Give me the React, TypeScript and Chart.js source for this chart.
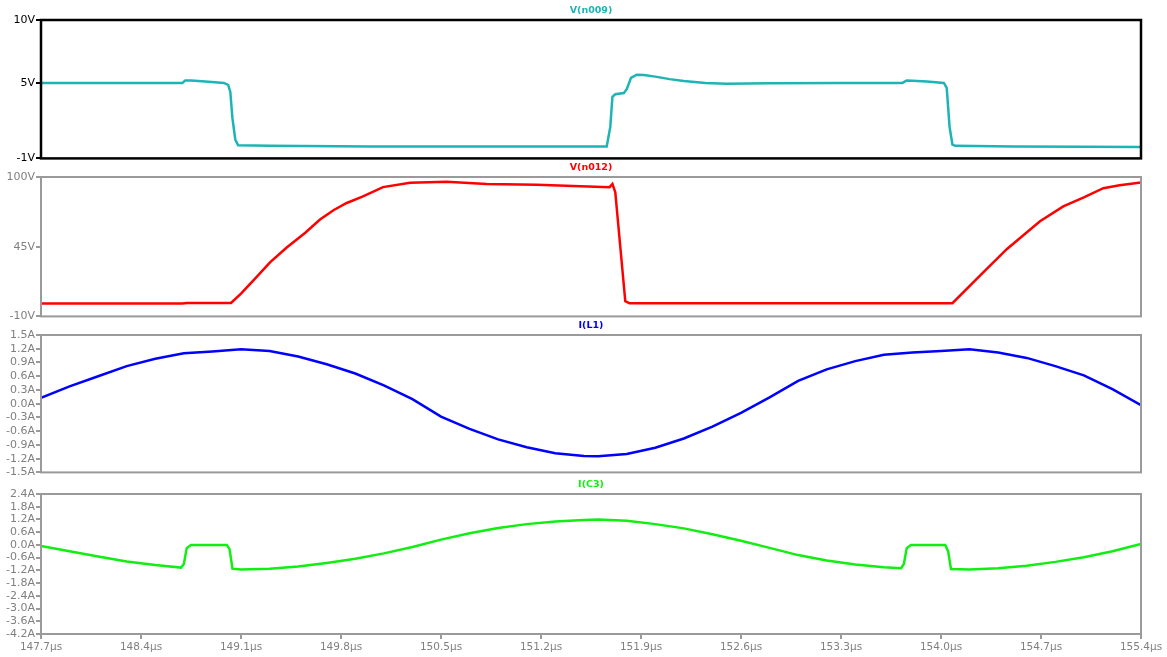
import { useEffect, useRef } from "react";
import { Chart, registerables } from "chart.js";

Chart.register(...registerables);

// ---------- tick labels ----------
const xTicks = [147.7, 148.4, 149.1, 149.8, 150.5, 151.2, 151.9, 152.6, 153.3, 154.0, 154.7, 155.4];
const yTicksN009 = [-1, 5, 10];
const yTicksN012 = [-10, 45, 100];
const yTicksL1 = [-1.5, -1.2, -0.9, -0.6, -0.3, 0.0, 0.3, 0.6, 0.9, 1.2, 1.5];
const yTicksC3 = [-4.2, -3.6, -3.0, -2.4, -1.8, -1.2, -0.6, 0.0, 0.6, 1.2, 1.8, 2.4];

// ---------- V(n009) ----------
const tN009 = [147.7, 148.2, 148.69, 148.71, 148.75, 148.85, 148.98, 149.01, 149.025, 149.04, 149.06, 149.08, 149.3, 150.0, 150.8, 151.66, 151.685, 151.7, 151.72, 151.78, 151.8, 151.83, 151.87, 151.92, 152.0, 152.1, 152.2, 152.35, 152.5, 152.8, 153.3, 153.73, 153.76, 153.8, 153.9, 154.02, 154.04, 154.06, 154.08, 154.1, 154.5, 155.0, 155.4];
const vN009 = [5.0, 5.0, 5.0, 5.2, 5.2, 5.12, 5.0, 4.85, 4.3, 2.2, 0.5, 0.05, 0.0, -0.05, -0.05, -0.05, 1.5, 3.9, 4.1, 4.2, 4.5, 5.4, 5.65, 5.62, 5.5, 5.3, 5.15, 5.0, 4.93, 4.97, 5.0, 5.0, 5.2, 5.18, 5.12, 5.0, 4.6, 1.5, 0.1, 0.0, -0.05, -0.08, -0.1];

// ---------- V(n012) ----------
const tN012 = [147.7, 148.69, 148.72, 149.03, 149.1, 149.2, 149.303, 149.42, 149.55, 149.653, 149.75, 149.84, 149.95, 150.094, 150.283, 150.54, 150.82, 151.17, 151.68, 151.7, 151.72, 151.79, 151.82, 152.5, 153.5, 154.08, 154.273, 154.46, 154.693, 154.856, 155.0, 155.136, 155.25, 155.4];
const vN012 = [0.2, 0.2, 0.5, 0.6, 8, 20, 32.7, 44.4, 56, 66.5, 74, 79.5, 84.5, 92, 95.5, 96.3, 94.5, 93.8, 92.0, 94.5, 88, 2, 0.3, 0.3, 0.3, 0.4, 22.2, 43.0, 65.1, 76.8, 84, 91.2, 93.5, 95.6];

// ---------- I(L1) ----------
const tL1 = [147.7, 147.9, 148.1, 148.3, 148.5, 148.7, 148.9, 149.1, 149.3, 149.5, 149.7, 149.9, 150.1, 150.3, 150.5, 150.7, 150.9, 151.1, 151.3, 151.5, 151.6, 151.8, 152.0, 152.2, 152.4, 152.6, 152.8, 153.0, 153.2, 153.4, 153.6, 153.8, 154.0, 154.2, 154.4, 154.6, 154.8, 155.0, 155.2, 155.4];
const iL1 = [0.13, 0.38, 0.6, 0.82, 0.98, 1.1, 1.14, 1.19, 1.15, 1.03, 0.86, 0.66, 0.4, 0.1, -0.28, -0.55, -0.78, -0.95, -1.08, -1.14, -1.15, -1.1, -0.96, -0.76, -0.5, -0.2, 0.14, 0.5, 0.75, 0.93, 1.07, 1.12, 1.15, 1.19, 1.12, 1.0, 0.82, 0.62, 0.32, -0.03];

// ---------- I(C3) ----------
const tC3 = [147.7, 147.9, 148.1, 148.3, 148.5, 148.68, 148.7, 148.72, 148.75, 149.0, 149.02, 149.04, 149.1, 149.3, 149.5, 149.7, 149.9, 150.1, 150.3, 150.5, 150.7, 150.9, 151.1, 151.3, 151.5, 151.6, 151.8, 152.0, 152.2, 152.4, 152.6, 152.8, 153.0, 153.2, 153.4, 153.6, 153.72, 153.74, 153.76, 153.79, 154.03, 154.05, 154.07, 154.2, 154.4, 154.6, 154.8, 155.0, 155.2, 155.4];
const iC3 = [-0.05, -0.3, -0.55, -0.78, -0.95, -1.07, -0.9, -0.15, 0.0, 0.0, -0.2, -1.12, -1.16, -1.12, -1.02, -0.85, -0.65, -0.4, -0.1, 0.25, 0.55, 0.8, 0.98, 1.1, 1.18, 1.2, 1.14, 0.98, 0.78, 0.5, 0.2, -0.14, -0.48, -0.73, -0.92, -1.05, -1.1, -0.9, -0.15, 0.0, 0.0, -0.3, -1.14, -1.16, -1.1, -0.98, -0.8, -0.58, -0.3, 0.05];

const FONT = "DejaVu Sans";

const framePlugin = {
  id: "frame",
  afterDatasetsDraw(chart: any, _args: any, opts: any) {
    const { ctx, chartArea } = chart;
    const { left, top, right, bottom } = chartArea;
    ctx.save();
    ctx.strokeStyle = opts.color;
    ctx.lineWidth = opts.width;
    ctx.strokeRect(left, top, right - left, bottom - top);
    ctx.fillStyle = opts.titleColor;
    ctx.font = `bold 9.5px "${FONT}"`;
    ctx.textAlign = "center";
    ctx.textBaseline = "middle";
    ctx.fillText(opts.title, (left + right) / 2, top - 9);
    ctx.restore();
  },
};

type Spec = {
  title: string;
  color: string;
  t: number[];
  v: number[];
  yTicks: number[];
  fmt: (v: number) => string;
  top: number;
  height: number;
  padTop: number;
  padBottom: number;
  showX: boolean;
  frameColor: string;
  frameWidth: number;
  labelColor: string;
};

const fmtA = (v: number) => (Math.abs(v) < 1e-9 ? 0 : v).toFixed(1) + "A";
const fmtV = (v: number) => `${v}V`;

// chart areas (page px): P1 20-160, P2 177-318, P3 335-474, P4 494-634
const specs: Spec[] = [
  { title: "V(n009)", color: "#1cb4b4", t: tN009, v: vN009, yTicks: yTicksN009, fmt: fmtV, top: 0, height: 166, padTop: 20, padBottom: 6, showX: false, frameColor: "#000000", frameWidth: 2.5, labelColor: "#000000" },
  { title: "V(n012)", color: "#ff0000", t: tN012, v: vN012, yTicks: yTicksN012, fmt: fmtV, top: 160, height: 164, padTop: 17, padBottom: 6, showX: false, frameColor: "#9a9a9a", frameWidth: 2, labelColor: "#808080" },
  { title: "I(L1)", color: "#0000ff", t: tL1, v: iL1, yTicks: yTicksL1, fmt: fmtA, top: 318, height: 162, padTop: 17, padBottom: 6, showX: false, frameColor: "#9a9a9a", frameWidth: 2, labelColor: "#808080" },
  { title: "I(C3)", color: "#11ee11", t: tC3, v: iC3, yTicks: yTicksC3, fmt: fmtA, top: 474, height: 183, padTop: 20, padBottom: 0, showX: true, frameColor: "#9a9a9a", frameWidth: 2, labelColor: "#808080" },
];

function Panel({ spec }: { spec: Spec }) {
  const ref = useRef<HTMLCanvasElement>(null);
  useEffect(() => {
    if (!ref.current) return;
    const yMin = spec.yTicks[0];
    const yMax = spec.yTicks[spec.yTicks.length - 1];
    const chart = new Chart(ref.current, {
      type: "line",
      data: {
        datasets: [
          {
            data: spec.t.map((x, i) => ({ x, y: spec.v[i] })),
            borderColor: spec.color,
            borderWidth: 2.5,
            pointRadius: 0,
            tension: 0,
            fill: false,
          },
        ],
      },
      options: {
        responsive: false,
        animation: false,
        layout: { padding: { left: 0, right: 26, top: spec.padTop, bottom: spec.padBottom } },
        plugins: {
          legend: { display: false },
          tooltip: { enabled: false },
          frame: { color: spec.frameColor, width: spec.frameWidth, title: spec.title, titleColor: spec.color },
        } as any,
        scales: {
          x: {
            type: "linear",
            min: xTicks[0],
            max: xTicks[xTicks.length - 1],
            display: spec.showX,
            afterBuildTicks: (s: any) => {
              s.ticks = xTicks.map((value) => ({ value }));
            },
            afterFit: (s: any) => {
              s.height = spec.showX ? 23 : 0;
            },
            ticks: {
              autoSkip: false,
              maxRotation: 0,
              padding: 2,
              color: "#808080",
              font: { family: FONT, size: 10.5 },
              callback: (v: any) => Number(v).toFixed(1) + "\u00b5s",
            },
            grid: { drawOnChartArea: false, drawTicks: true, tickLength: 5, color: "#9a9a9a", lineWidth: 2 },
            border: { display: false },
          },
          y: {
            type: "linear",
            min: yMin,
            max: yMax,
            afterBuildTicks: (s: any) => {
              s.ticks = spec.yTicks.map((value) => ({ value }));
            },
            afterFit: (s: any) => {
              s.width = 41;
            },
            ticks: {
              autoSkip: false,
              padding: 1,
              color: spec.labelColor,
              font: { family: FONT, size: 11 },
              callback: (v: any) => spec.fmt(Number(v)),
            },
            grid: { drawOnChartArea: false, drawTicks: true, tickLength: 5, color: spec.frameColor, lineWidth: 2 },
            border: { display: false },
          },
        },
      },
      plugins: [framePlugin],
    });
    return () => chart.destroy();
  }, [spec]);
  return (
    <div style={{ position: "absolute", left: 0, top: spec.top, width: 1167, height: spec.height }}>
      <canvas ref={ref} width={1167} height={spec.height} style={{ width: 1167, height: spec.height, display: "block" }} />
    </div>
  );
}

export default function App() {
  return (
    <div style={{ position: "fixed", left: 0, top: 0, width: 1167, height: 657, background: "#ffffff", overflow: "hidden" }}>
      {specs.map((s) => (
        <Panel key={s.title} spec={s} />
      ))}
    </div>
  );
}
